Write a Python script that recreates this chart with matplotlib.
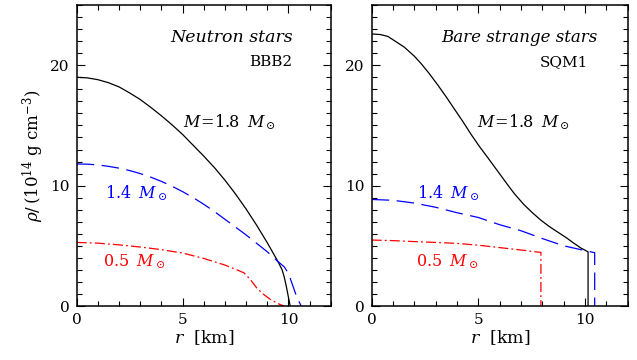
import matplotlib
matplotlib.use("Agg")
import matplotlib.pyplot as plt
from matplotlib.ticker import MultipleLocator

plt.rcParams["font.family"] = "serif"
plt.rcParams["font.serif"] = ["DejaVu Serif"]
plt.rcParams["mathtext.fontset"] = "dejavuserif"

# --- neutron stars (BBB2) ---
ns_r_18 = [0, 0.5, 1.0, 1.5, 2.0, 2.5, 3.0, 3.5, 4.0, 4.5, 5.0, 5.5, 6.0, 6.5, 7.0,
           7.5, 8.0, 8.5, 9.0, 9.5, 9.7, 9.8, 9.9, 10.0, 10.08]
ns_rho_18 = [19.0, 18.95, 18.8, 18.55, 18.2, 17.7, 17.15, 16.5, 15.8, 15.05, 14.25,
             13.35, 12.45, 11.5, 10.45, 9.3, 8.05, 6.7, 5.25, 3.7, 3.0, 2.4, 1.6, 0.7, 0.0]

ns_r_14 = [0, 0.5, 1.0, 1.5, 2.0, 2.5, 3.0, 3.5, 4.0, 4.5, 5.0, 5.5, 6.0, 6.5, 7.0,
           7.5, 8.0, 8.5, 9.0, 9.5, 9.8, 10.0, 10.2, 10.4, 10.6]
ns_rho_14 = [11.8, 11.78, 11.72, 11.6, 11.45, 11.25, 11.0, 10.7, 10.35, 9.95, 9.5,
             9.0, 8.45, 7.85, 7.2, 6.55, 5.9, 5.2, 4.5, 3.7, 3.25, 2.7, 1.7, 0.7, 0.0]

ns_r_05 = [0, 1, 2, 3, 4, 5, 6, 7, 7.5, 7.9, 8.2, 8.5, 8.8, 9.1, 9.4, 9.6, 9.8]
ns_rho_05 = [5.28, 5.22, 5.08, 4.9, 4.68, 4.4, 3.95, 3.4, 3.05, 2.75, 2.2, 1.5, 1.0,
             0.6, 0.3, 0.12, 0.0]

# --- bare strange stars (SQM1) ---
ss_r_18 = [0, 0.4, 0.75, 1.1, 1.53, 2.0, 2.31, 2.7, 3.1, 3.5, 3.88, 4.3, 4.66, 5.05,
           5.45, 5.8, 6.07, 6.4, 6.7, 7.12, 7.5, 7.9, 8.3, 8.69, 9.1, 9.47, 9.8,
           10.14, 10.14]
ss_rho_18 = [22.6, 22.55, 22.4, 22.0, 21.5, 20.75, 20.15, 19.3, 18.35, 17.35, 16.35,
             15.25, 14.25, 13.25, 12.3, 11.45, 10.8, 10.0, 9.3, 8.45, 7.8, 7.17, 6.63,
             6.17, 5.7, 5.22, 4.82, 4.5, 0.0]

ss_r_14 = [0, 1, 2, 3, 4, 5, 6, 7, 8, 9, 10, 10.45, 10.45]
ss_rho_14 = [8.85, 8.78, 8.55, 8.2, 7.75, 7.35, 6.75, 6.25, 5.6, 5.0, 4.6, 4.43, 0.0]

ss_r_05 = [0, 1, 2, 3, 4, 5, 6, 7, 7.93, 7.93]
ss_rho_05 = [5.48, 5.43, 5.35, 5.28, 5.2, 5.05, 4.85, 4.65, 4.45, 0.0]

fig = plt.figure(figsize=(6.37, 3.6), dpi=100)
ax1 = fig.add_axes([0.1204, 0.15, 0.399, 0.836])
ax2 = fig.add_axes([0.5835, 0.15, 0.402, 0.836])

for ax in (ax1, ax2):
    ax.set_xlim(0, 12)
    ax.set_ylim(0, 25)
    ax.xaxis.set_major_locator(MultipleLocator(5))
    ax.xaxis.set_minor_locator(MultipleLocator(1))
    ax.yaxis.set_major_locator(MultipleLocator(10))
    ax.yaxis.set_minor_locator(MultipleLocator(1))
    ax.tick_params(which="both", direction="in", top=True, right=True,
                   labelsize=11, width=0.8)
    ax.tick_params(which="major", length=6, pad=5)
    ax.tick_params(which="minor", length=3.5)
    for s in ax.spines.values():
        s.set_linewidth(1.1)
    ax.set_xlabel(r"$r$  [km]", fontsize=12.5, labelpad=1)

ax1.set_ylabel(r"$\rho/\,(10^{14}$ g cm$^{-3})$", fontsize=12, labelpad=3)

dash_blue = (14, 6)
dash_red = (8, 2.5, 1.5, 2.5)

ax1.plot(ns_r_18, ns_rho_18, color="black", lw=0.9)
ax1.plot(ns_r_14, ns_rho_14, color="blue", lw=0.9, dashes=dash_blue)
ax1.plot(ns_r_05, ns_rho_05, color="red", lw=0.9, dashes=dash_red)

ax2.plot(ss_r_18, ss_rho_18, color="black", lw=0.9)
ax2.plot(ss_r_14, ss_rho_14, color="blue", lw=0.9, dashes=dash_blue)
ax2.plot(ss_r_05, ss_rho_05, color="red", lw=0.9, dashes=dash_red)

ax1.text(10.2, 22.3, "Neutron stars", style="italic", fontsize=12.5,
         ha="right", va="center")
ax1.text(10.2, 20.25, "BBB2", fontsize=11, ha="right", va="center")
ax1.text(5.0, 15.3, r"$M\!=\!1.8\;\; M_\odot$", fontsize=11.5, va="center")
ax1.text(1.34, 9.4, r"$1.4\;\; M_\odot$", fontsize=11.5, va="center", color="blue")
ax1.text(1.24, 3.65, r"$0.5\;\; M_\odot$", fontsize=11.5, va="center", color="red")

ax2.text(10.6, 22.3, "Bare strange stars", style="italic", fontsize=12,
         ha="right", va="center")
ax2.text(10.15, 20.25, "SQM1", fontsize=11, ha="right", va="center")
ax2.text(4.93, 15.3, r"$M\!=\!1.8\;\; M_\odot$", fontsize=11.5, va="center")
ax2.text(2.13, 9.4, r"$1.4\;\; M_\odot$", fontsize=11.5, va="center", color="blue")
ax2.text(2.08, 3.65, r"$0.5\;\; M_\odot$", fontsize=11.5, va="center", color="red")

fig.savefig("out.png", dpi=100)
